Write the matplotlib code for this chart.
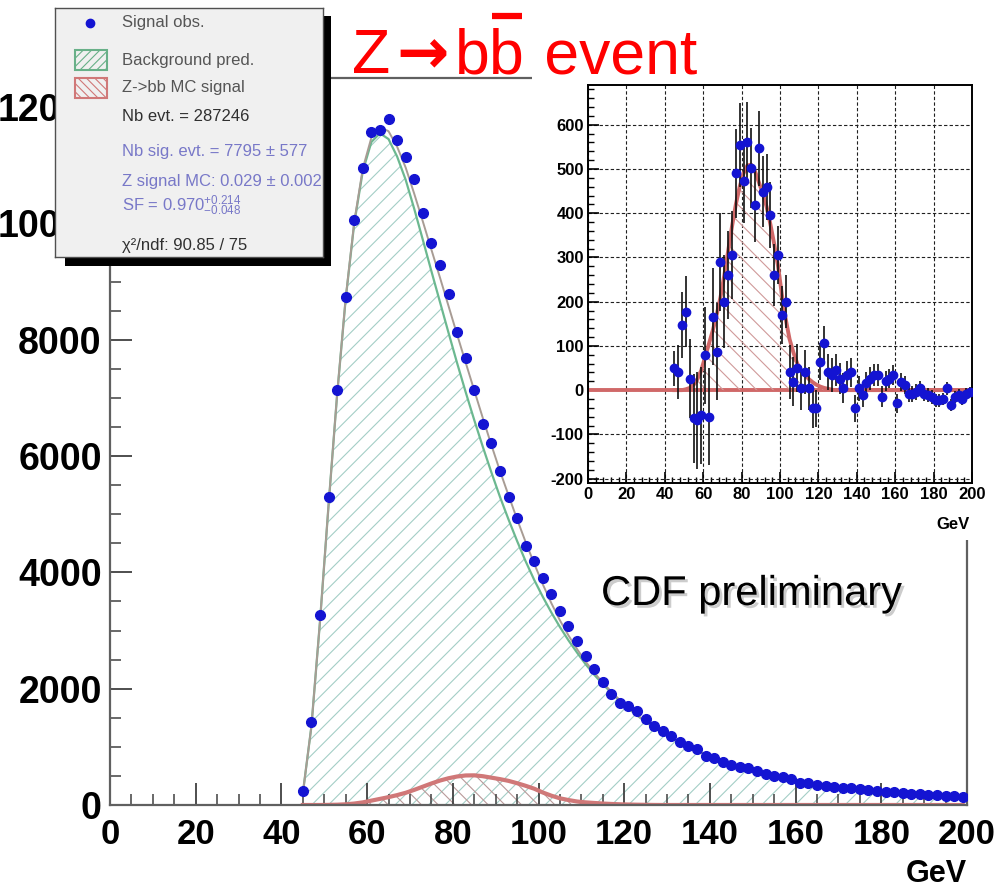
import numpy as np
import matplotlib
matplotlib.use("Agg")
import matplotlib.pyplot as plt
from matplotlib.ticker import MultipleLocator
from matplotlib.patches import Rectangle
from matplotlib.lines import Line2D
import matplotlib.patheffects as pe

plt.rcParams['font.family'] = ['Liberation Sans', 'DejaVu Sans']
plt.rcParams['axes.unicode_minus'] = False
plt.rcParams['mathtext.fontset'] = 'custom'
plt.rcParams['mathtext.rm'] = 'Liberation Sans'
plt.rcParams['mathtext.it'] = 'Liberation Sans:italic'
plt.rcParams['mathtext.bf'] = 'Liberation Sans:bold'
plt.rcParams['hatch.linewidth'] = 0.8

# bin centres (GeV), 2 GeV bins
mass = np.arange(45, 200, 2)

# observed dijet mass spectrum
obs = [240, 1420, 3260, 5300, 7140, 8740, 10060, 10960, 11580, 11610,
       11790, 11430, 11150, 10760, 10180, 9670, 9280, 8780, 8130, 7680,
       7140, 6550, 6230, 5740, 5290, 4940, 4450, 4190, 3900, 3620,
       3330, 3080, 2820, 2560, 2330, 2110, 1910, 1760, 1710, 1620,
       1480, 1360, 1280, 1190, 1090, 1020, 960, 845, 805, 740,
       690, 655, 630, 585, 530, 500, 480, 440, 385, 370,
       350, 330, 312, 298, 284, 270, 255, 240, 228, 215,
       205, 195, 185, 175, 168, 160, 152, 145]

# background prediction
bkg = [200, 1350, 3150, 5150, 7050, 8700, 10000, 10900, 11400, 11550,
       11450, 11150, 10750, 10250, 9720, 9180, 8650, 8120, 7600, 7100,
       6620, 6160, 5720, 5300, 4910, 4540, 4190, 3870, 3580, 3310,
       3060, 2830, 2620, 2420, 2240, 2080, 1930, 1790, 1660, 1540,
       1430, 1330, 1240, 1150, 1070, 1000, 930, 870, 810, 755,
       705, 660, 615, 575, 540, 505, 472, 442, 414, 388,
       364, 342, 321, 302, 284, 268, 253, 239, 226, 214,
       203, 193, 184, 175, 167, 160, 153, 147]

# Z->bb MC signal
sig = [0, 0, 0, 2, 5, 12, 25, 45, 75, 105,
       135, 170, 210, 260, 315, 370, 420, 460, 490, 508,
       510, 495, 470, 445, 415, 375, 330, 280, 215, 160,
       115, 85, 60, 45, 35, 25, 18, 12, 8, 5,
       3, 1, 0, 0, 0, 0, 0, 0, 0, 0,
       0, 0, 0, 0, 0, 0, 0, 0, 0, 0,
       0, 0, 0, 0, 0, 0, 0, 0, 0, 0,
       0, 0, 0, 0, 0, 0, 0, 0]

# data minus background (inset)
resid = [49, 41, 147, 177, 26, -64, -68, -57, 79, -60,
         166, 87, 290, 200, 260, 306, 490, 555, 472, 562,
         502, 419, 547, 449, 460, 396, 260, 306, 170, 200,
         41, 19, 50, 4, 41, 4, -41, -41, 64, 106,
         41, 34, 45, 26, 4, 34, 40, -41, 4, -11,
         15, 26, 34, 35, -15, 20, 26, 34, -30, 19,
         11, -8, -8, -5, 4, -8, -11, -15, -23, -23,
         -20, 4, -34, -15, -11, -20, -8, -4]

resid_err = [40, 60, 75, 80, 90, 100, 110, 110, 110, 110,
             110, 110, 110, 105, 100, 100, 100, 95, 95, 90,
             90, 85, 85, 80, 75, 75, 70, 65, 65, 60,
             60, 55, 55, 50, 50, 48, 45, 42, 42, 40,
             40, 38, 36, 35, 34, 33, 32, 30, 29, 28,
             27, 26, 25, 25, 24, 23, 22, 22, 21, 20,
             20, 19, 18, 18, 17, 17, 16, 16, 15, 15,
             14, 14, 14, 13, 13, 13, 12, 12]

legend_lines = ["Nb evt. = 287246",
                "Nb sig. evt. = 7795 \u00b1 577",
                "Z signal MC: 0.029 \u00b1 0.002",
                "SF = 0.970$^{+0.214}_{-0.048}$",
                "\u03c7\u00b2/ndf: 90.85 / 75"]

W, H = 994, 892
fig = plt.figure(figsize=(W / 100, H / 100), dpi=100)

def fx(px):
    return px / W

def fy(py):
    return 1 - py / H

blue = '#1414d2'
bkg_arr = np.array(bkg)
sig_arr = np.array(sig)

# ---------------- main plot ----------------
ax = fig.add_axes([fx(110), fy(805), fx(967) - fx(110), fy(78) - fy(805)])
ax.fill_between(mass, bkg_arr, facecolor='none', edgecolor='#a4cec6', hatch='//', lw=0)
ax.plot(mass, bkg_arr, color='#6cb890', lw=1.6)
ax.plot(mass, bkg_arr + sig_arr, color='#a89c94', lw=1.4)
ax.fill_between(mass, sig_arr, facecolor='none', edgecolor='#b89a9a', hatch='\\\\', lw=0)
ax.plot(mass, sig_arr, color='#d07878', lw=3)
ax.plot(mass, obs, 'o', color=blue, ms=7, zorder=5)

ax.set_xlim(0, 200)
ax.set_ylim(0, 12500)
ax.xaxis.set_major_locator(MultipleLocator(20))
ax.xaxis.set_minor_locator(MultipleLocator(5))
ax.yaxis.set_major_locator(MultipleLocator(2000))
ax.yaxis.set_minor_locator(MultipleLocator(500))
ax.tick_params(which='both', direction='in', top=False, right=False, color='#404040')
ax.tick_params(which='major', length=16, width=1.3, labelsize=27)
ax.tick_params(which='minor', length=8, width=1.1)
ax.tick_params(axis='x', pad=9, labelsize=25)
ax.tick_params(axis='y', pad=6)
for lab in ax.get_xticklabels() + ax.get_yticklabels():
    lab.set_fontweight('bold')
for sp in ax.spines.values():
    sp.set_color('#606060')
    sp.set_linewidth(1.6)

fig.text(fx(967), fy(882), 'GeV', ha='right', va='baseline', fontsize=22, fontweight='bold')

# white area behind the inset (hides the frame of the main plot there)
fig.add_artist(Rectangle((fx(532), fy(540)), fx(994) - fx(532), fy(60) - fy(540),
                         transform=fig.transFigure, facecolor='white', edgecolor='none', zorder=2))

# ---------------- inset: data minus background ----------------
axi = fig.add_axes([fx(588), fy(483), fx(972) - fx(588), fy(85) - fy(483)], zorder=3)
axi.grid(True, which='major', color='#202020', ls=(0, (3, 2)), lw=0.8)
axi.axhline(0, color='#d06868', lw=2.8, zorder=2)
axi.fill_between(mass, sig_arr, facecolor='none', edgecolor='#d09a9a', hatch='\\\\', lw=0, zorder=2)
axi.plot(mass, sig_arr, color='#d06868', lw=2.8, zorder=3)
axi.errorbar(mass, resid, yerr=resid_err, fmt='o', color=blue, ms=6,
             ecolor='#101010', elinewidth=1.2, capsize=0, zorder=4)
axi.set_xlim(0, 200)
axi.set_ylim(-210, 690)
axi.set_axisbelow(True)
axi.xaxis.set_major_locator(MultipleLocator(20))
axi.xaxis.set_minor_locator(MultipleLocator(4))
axi.yaxis.set_major_locator(MultipleLocator(100))
axi.yaxis.set_minor_locator(MultipleLocator(20))
axi.tick_params(which='both', direction='in', top=False, right=False, color='black')
axi.tick_params(which='major', length=8, width=1.2, labelsize=12, pad=3)
axi.tick_params(which='minor', length=4, width=1)
for lab in axi.get_xticklabels() + axi.get_yticklabels():
    lab.set_fontweight('bold')
for sp in axi.spines.values():
    sp.set_color('black')
    sp.set_linewidth(1.4)
fig.text(fx(970), fy(529), 'GeV', ha='right', va='baseline', fontsize=12, fontweight='bold')

# ---------------- legend / fit box ----------------
fig.add_artist(Rectangle((fx(65), fy(266)), fx(331) - fx(65), fy(16) - fy(266),
                         transform=fig.transFigure, facecolor='black', edgecolor='none', zorder=4))
leg = fig.add_axes([fx(55), fy(257), fx(323) - fx(55), fy(8) - fy(257)], zorder=5)
leg.set_facecolor('#f0f0f0')
leg.set_xlim(0, 1)
leg.set_ylim(0, 1)
leg.set_xticks([])
leg.set_yticks([])
for sp in leg.spines.values():
    sp.set_color('#505050')
    sp.set_linewidth(1)

row_y = [0.94, 0.79, 0.68, 0.565, 0.425, 0.305, 0.205, 0.045]
tx = 0.25
leg.plot([0.13], [row_y[0]], 'o', color=blue, ms=6)
leg.add_patch(Rectangle((0.075, row_y[1] - 0.04), 0.12, 0.08, facecolor='none',
                        edgecolor='#68b088', hatch='////', lw=1.5))
leg.add_patch(Rectangle((0.075, row_y[2] - 0.04), 0.12, 0.08, facecolor='none',
                        edgecolor='#d07878', hatch='\\\\\\\\', lw=1.5))
leg.text(tx, row_y[0], 'Signal obs.', va='center', fontsize=12, color='#555555')
leg.text(tx, row_y[1], 'Background pred.', va='center', fontsize=12, color='#555555')
leg.text(tx, row_y[2], 'Z->bb MC signal', va='center', fontsize=12, color='#555555')
colors = ['#303030', '#7878c8', '#7878c8', '#7878c8', '#303030']
for txt, yy, c in zip(legend_lines, row_y[3:], colors):
    leg.text(tx, yy, txt, va='center', fontsize=12, color=c, clip_on=True)

# ---------------- title (pieces, thick arrow, bar over second b) ----------------
renderer = fig.canvas.get_renderer()
red = '#ff0000'
pieces = [('Z', 'Liberation Sans', 'normal'),
          ('\u2192', 'DejaVu Sans', 'bold'),
          ('b', 'Liberation Sans', 'normal'),
          ('b', 'Liberation Sans', 'normal'),
          (' event', 'Liberation Sans', 'normal')]
gaps = [6, 6, 0, 3, 0]
xpix = 352
bar_span = None
for i, (s, fam, wt) in enumerate(pieces):
    t = fig.text(fx(xpix), fy(73), s, ha='left', va='baseline', fontsize=45,
                 color=red, family=fam, fontweight=wt)
    ext = t.get_window_extent(renderer)
    if i == 3:
        bar_span = (ext.x0, ext.x1)
    xpix = xpix + ext.width + gaps[i]
fig.add_artist(Line2D([(bar_span[0] + 3) / W, (bar_span[1] - 2) / W], [fy(16), fy(16)],
                      transform=fig.transFigure, color=red, lw=4.5, solid_capstyle='butt'))

fig.text(fx(601), fy(605), 'CDF preliminary', fontsize=30, color='black', va='baseline',
         path_effects=[pe.withSimplePatchShadow(offset=(2, -2), shadow_rgbFace='gray', alpha=0.4)])

fig.savefig('out.png', dpi=100)
